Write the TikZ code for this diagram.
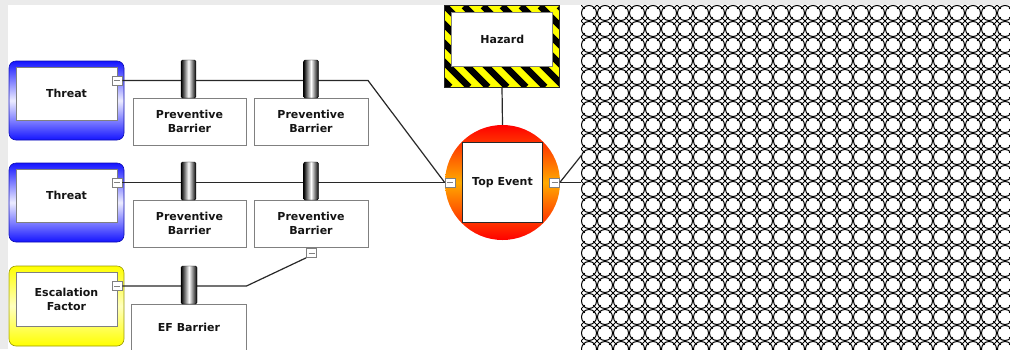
\documentclass[tikz,border=0pt]{standalone}
\usepackage{fontspec}
\setmainfont{DejaVu Sans}
\definecolor{bandgray}{RGB}{235,235,235}
\definecolor{linegray}{RGB}{40,40,40}
\definecolor{boxgray}{RGB}{128,128,128}
\definecolor{txt}{RGB}{20,20,20}
\definecolor{threatblue}{RGB}{20,20,255}
\definecolor{efyellow}{RGB}{255,255,0}
\definecolor{teorange}{RGB}{255,170,0}
\definecolor{hazyellow}{RGB}{255,255,0}
\newcommand{\labelfont}{\fontsize{11}{14}\selectfont\bfseries\color{txt}}
\tikzset{
  conn/.style={draw=linegray, line width=1.2pt},
  framebox/.style={rounded corners=7pt, minimum width=115pt, minimum height=79pt, inner sep=0pt, line width=0.6pt},
  inbox/.style={draw=boxgray, fill=white, line width=0.7pt, inner sep=0pt, align=center, font=\labelfont},
  knob/.style={minimum width=15pt, minimum height=38pt, inner sep=0pt, rounded corners=1.5pt,
    left color=black, right color=black, middle color=white, draw=black, line width=0.4pt},
  minusbox/.style={draw=boxgray, fill=white, line width=0.6pt, minimum width=10pt, minimum height=9pt, inner sep=0pt,
    path picture={\draw[line width=0.6pt, boxgray] ([xshift=-3pt]path picture bounding box.center) -- ([xshift=3pt]path picture bounding box.center);}},
  pat/.style={draw=black, line width=1pt},
}
\begin{document}
\begin{tikzpicture}[x=1pt, y=-1pt]
\useasboundingbox (0,0) rectangle (1010,349);
% page background
\fill[white] (0,0) rectangle (1010,349);
\fill[bandgray] (0,0) rectangle (1010,5);
\fill[bandgray] (0,0) rectangle (8,349);

% threat and escalation frames
\node[framebox, draw=threatblue!70!black, top color=threatblue, bottom color=threatblue, middle color=threatblue!8] (t1frame) at (66.5,100.5) {};
\node[inbox, minimum width=101pt, minimum height=53pt] (threat1) at (66.5,93.5) {Threat};
\node[framebox, draw=threatblue!70!black, top color=threatblue, bottom color=threatblue, middle color=threatblue!8] (t2frame) at (66.5,202.5) {};
\node[inbox, minimum width=101pt, minimum height=53pt] (threat2) at (66.5,195.5) {Threat};
\node[framebox, minimum height=80pt, draw=efyellow!60!black, top color=efyellow, bottom color=efyellow, middle color=efyellow!25] (efframe) at (66.5,306) {};
\node[inbox, minimum width=101pt, minimum height=54pt] (escal) at (66.5,299) {Escalation\\Factor};

% hazard with striped frame
\node[minimum width=114pt, minimum height=81pt, inner sep=0pt, fill=hazyellow] (hazframe) at (502,46.5) {};
\begin{scope}
  \clip (hazframe.south west) rectangle (hazframe.north east);
  \foreach \k in {-6,...,8} \draw[line width=6.7pt, black] (445+19*\k,6) -- ++(81,81);
\end{scope}
\draw[line width=0.7pt, linegray] (hazframe.south west) rectangle (hazframe.north east);
\node[inbox, minimum width=101pt, minimum height=54pt] (hazard) at (502.3,39.7) {Hazard};

% top event
\node[circle, minimum size=115pt, inner sep=0pt, top color=red, bottom color=red, middle color=teorange] (tecircle) at (502.5,182.5) {};
\node[inbox, draw=linegray, minimum width=80pt, minimum height=80pt] (te) at (502.5,182.5) {Top Event};

% collapse markers
\node[minusbox] (m1) at (117,80.5) {};
\node[minusbox] (m2) at (117,182.5) {};
\node[minusbox] (m3) at (117,286) {};
\node[minusbox] (teL) at (450,182.5) {};
\node[minusbox] (teR) at (554.5,182.5) {};

% connector end points
\coordinate (bend1) at (368,80.5);
\coordinate (bend3) at (246.5,286);
\coordinate (outUp) at (600,132);
\coordinate (outMid) at (600,182.5);

% connectors
\draw[conn] (m1.east) -- (bend1) -- (teL.west);
\draw[conn] (m2.east) -- (teL.west);
\draw[conn] (hazframe.south) -- (tecircle.north);
\draw[conn] (teR.east) -- (outUp);
\draw[conn] (teR.east) -- (outMid);

% barrier boxes
\node[inbox, minimum width=113pt, minimum height=47pt] (pb11) at (189.5,121.5) {Preventive\\Barrier};
\node[inbox, minimum width=114pt, minimum height=47pt] (pb12) at (311,121.5) {Preventive\\Barrier};
\node[inbox, minimum width=113pt, minimum height=47pt] (pb21) at (189.5,223.5) {Preventive\\Barrier};
\node[inbox, minimum width=114pt, minimum height=47pt] (pb22) at (311,223.5) {Preventive\\Barrier};
\node[inbox, minimum width=115pt, minimum height=47pt] (efb) at (189,327.5) {EF Barrier};
\node[minusbox] (m4) at (311.5,253) {};
\draw[conn] (m3.east) -- (bend3) -- (m4.south west);

% barrier knobs on the lines
\node[knob] (k11) at (188.5,79) {};
\node[knob] (k12) at (311,79) {};
\node[knob] (k21) at (188.5,181) {};
\node[knob] (k22) at (311,181) {};
\node[knob, minimum width=16pt] (k31) at (189,285) {};

% chain-link texture on the right
\begin{scope}
  \clip (581,5) rectangle (1010,349);
  \fill[white] (581,5) rectangle (1010,349);
  \foreach \i in {0,...,27} \foreach \j in {0,...,22} {
    \draw[pat] (589+16*\i,13+16*\j) circle[radius=7.5pt];
    \draw[pat] (581+16*\i-3.8,5+16*\j-3.8) -- ++(7.6,7.6);
    \draw[pat] (581+16*\i-3.8,5+16*\j+3.8) -- ++(7.6,-7.6);
  }
\end{scope}
\end{tikzpicture}
\end{document}
